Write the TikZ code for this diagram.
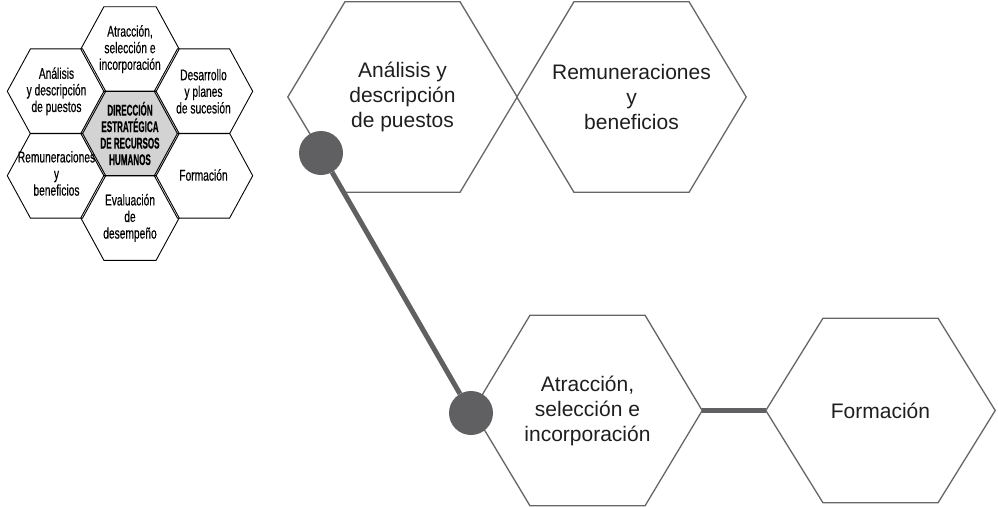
\documentclass[tikz,border=0pt]{standalone}
\usepackage{fontspec}
\setmainfont{Liberation Sans}
\newfontfamily\narrowfont[FakeStretch=0.66,FakeBold=0.4]{Liberation Sans}
\newfontfamily\corefont[FakeStretch=0.52,FakeBold=0.5]{Liberation Sans}
\usetikzlibrary{calc,backgrounds}

\definecolor{hexgray}{HTML}{666666}
\definecolor{dotgray}{HTML}{606062}
\definecolor{corefill}{HTML}{D3D3D3}
\definecolor{inkdark}{HTML}{1E1E1E}

\begin{document}
\begin{tikzpicture}[x=1pt,y=-1pt,
  bighex/.style={minimum width=229pt,minimum height=190pt,inner sep=0pt,
    align=center,text=inkdark,font=\fontsize{21}{25}\selectfont},
  smallhex/.style={minimum width=98pt,minimum height=84.4pt,inner sep=0pt,
    align=center,font=\narrowfont\fontsize{15.5}{16.6}\selectfont},
  bigline/.style={draw=hexgray,line width=1.3pt,line join=miter},
  smallline/.style={draw=black,line width=0.9pt,line join=miter},
  dot/.style={circle,fill=dotgray,minimum size=44pt,inner sep=0pt},
  link/.style={draw=dotgray,line width=5pt}]
\useasboundingbox (0,0) rectangle (998,506);

% ---- small honeycomb: the seven areas of HR management ----
\node[smallhex,font=\corefont\bfseries\fontsize{15.5}{16.5}\selectfont] (core) at (130,133.5)
  {DIRECCIÓN\\ESTRATÉGICA\\DE RECURSOS\\HUMANOS};
\node[smallhex] (sAtr) at (130,49.1)    {Atracción,\\selección e\\incorporación};
\node[smallhex] (sAna) at (56.5,91.3)   {Análisis\\y descripción\\de puestos};
\node[smallhex] (sDes) at (203.5,91.3)  {Desarrollo\\y planes\\de sucesión};
\node[smallhex] (sRem) at (56.5,175.7)  {\raisebox{-2pt}{\begin{tabular}{@{}c@{}}Remuneraciones\\y\\beneficios\end{tabular}}};
\node[smallhex] (sFor) at (203.5,175.7) {\raisebox{1.5pt}{Formación}};
\node[smallhex] (sEva) at (130,217.9)   {Evaluación\\de\\desempeño};

\begin{scope}[on background layer]
  \filldraw[smallline,fill=corefill]
    (core.west) -- ($(core.north west)!.235!(core.north east)$)
    -- ($(core.north west)!.765!(core.north east)$) -- (core.east)
    -- ($(core.south west)!.765!(core.south east)$)
    -- ($(core.south west)!.235!(core.south east)$) -- cycle;
\end{scope}
\foreach \h in {sAtr,sAna,sDes,sRem,sFor,sEva}
  \draw[smallline]
    (\h.west) -- ($(\h.north west)!.235!(\h.north east)$)
    -- ($(\h.north west)!.765!(\h.north east)$) -- (\h.east)
    -- ($(\h.south west)!.765!(\h.south east)$)
    -- ($(\h.south west)!.235!(\h.south east)$) -- cycle;

% ---- large hexagons ----
\node[bighex] (ana) at (402.5,97)   {Análisis y\\descripción\\de puestos};
\node[bighex] (rem) at (631.5,97)   {Remuneraciones\\y\\beneficios};
\node[bighex] (atr) at (587.5,410.5) {Atracción,\\selección e\\incorporación};
\node[bighex,minimum height=184pt] (for) at (880.5,410.5) {Formación};

\foreach \h in {ana,rem,atr,for}
  \draw[bigline]
    (\h.west) -- ($(\h.north west)!.249!(\h.north east)$)
    -- ($(\h.north west)!.751!(\h.north east)$) -- (\h.east)
    -- ($(\h.south west)!.751!(\h.south east)$)
    -- ($(\h.south west)!.249!(\h.south east)$) -- cycle;

% ---- path markers and connectors ----
\node[dot] (p1) at (321,153) {};
\node[dot] (p2) at (471,413) {};
\draw[link] (p1) -- (p2);
\draw[link] (atr.east) -- (for.west);
\end{tikzpicture}
\end{document}
